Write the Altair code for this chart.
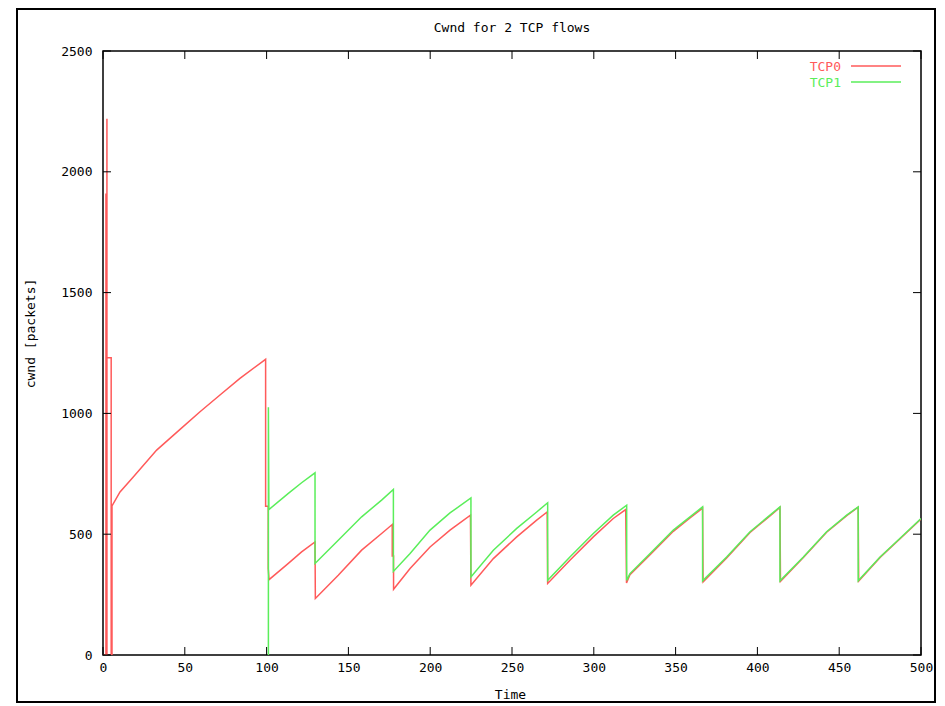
import altair as alt
import pandas as pd

# ---------------- data ----------------
series_names = ["TCP0", "TCP1"]

tcp0_time = [0, 1.8, 1.8, 1.9, 2.4, 2.4, 2.4, 5.0, 5.0, 5.5, 5.5,
             10.4, 18.5, 32.8, 47.1, 59.3, 71.5, 83.7, 99.4,
             99.4, 101.0, 101.0, 101.5, 113.3, 121.4, 129.6,
             129.8, 143.8, 158.1, 170.3, 176.8, 176.8, 177.6, 177.6,
             187.7, 199.9, 212.1, 224.6,
             224.9, 238.6, 252.9, 265.1, 271.5,
             271.8, 285.4, 299.7, 311.9, 319.5,
             320.0, 322.1, 334.4, 348.6, 358.8, 366.5,
             366.8, 381.2, 395.5, 407.7, 413.8,
             414.1, 428.1, 442.3, 454.6, 461.6,
             461.9, 475.0, 487.2, 500.0]
tcp0_cwnd = [0, 0, 1910, 0, 0, 2220, 1230, 1230, 0, 0, 617,
             675, 737, 848, 934, 1007, 1076, 1145, 1224,
             616, 616, 358, 312, 379, 427, 468,
             234, 330, 434, 503, 540, 410, 410, 272,
             358, 447, 517, 579,
             289, 399, 489, 558, 592,
             296, 392, 489, 565, 602,
             298, 332, 415, 512, 567, 608,
             302, 402, 507, 576, 611,
             305, 404, 508, 577, 612,
             306, 404, 481, 563]

tcp1_time = [101.1, 101.1, 101.4, 113.3, 121.4, 129.6,
             129.6, 143.8, 158.1, 170.3, 177.5,
             177.5, 187.7, 199.9, 212.1, 224.9,
             224.9, 238.6, 252.9, 265.1, 271.8,
             271.8, 285.4, 299.7, 311.9, 320.1,
             320.1, 322.1, 334.4, 348.6, 358.8, 366.5,
             366.5, 381.2, 395.5, 407.7, 413.8,
             413.8, 428.1, 442.3, 454.6, 461.6,
             461.6, 475.0, 487.2, 500.0]
tcp1_cwnd = [0, 1025, 602, 669, 713, 754,
             379, 475, 572, 641, 685,
             346, 420, 517, 588, 650,
             323, 434, 524, 592, 630,
             309, 406, 503, 579, 620,
             309, 337, 420, 517, 572, 613,
             307, 406, 510, 579, 613,
             307, 406, 510, 579, 613,
             307, 406, 483, 565]

x_ticks = [0, 50, 100, 150, 200, 250, 300, 350, 400, 450, 500]
y_ticks = [0, 500, 1000, 1500, 2000, 2500]

title_text = "Cwnd for 2 TCP flows"
x_title = "Time"
y_title = "cwnd [packets]"

# ---------------- styling ----------------
RED = "#ff5a5a"
GREEN = "#5aee5a"
FONT = "DejaVu Sans Mono"
FS = 13
W, H = 818, 604

df = pd.concat([
    pd.DataFrame({"t": tcp0_time, "cwnd": tcp0_cwnd, "flow": series_names[0],
                  "idx": range(len(tcp0_time))}),
    pd.DataFrame({"t": tcp1_time, "cwnd": tcp1_cwnd, "flow": series_names[1],
                  "idx": range(len(tcp1_time))}),
], ignore_index=True)

xs = alt.Scale(domain=[0, 500], nice=False, zero=False)
ys = alt.Scale(domain=[0, 2500], nice=False)

x_axis = alt.Axis(
    values=x_ticks, ticks=False, tickSize=0, domain=False, grid=False,
    labelFlush=False, labelPadding=6, labelFont=FONT, labelFontSize=FS,
    labelColor="black", format="d",
    title=x_title, titleFont=FONT, titleFontSize=FS, titleFontWeight="normal",
    titleColor="black", titleX=W / 2 - 2, titleY=39, titleBaseline="middle",
    titleAlign="center")
y_axis = alt.Axis(
    values=y_ticks, ticks=False, tickSize=0, domain=False, grid=False,
    labelFlush=False, labelPadding=11, labelFont=FONT, labelFontSize=FS,
    labelColor="black", format="d",
    title=y_title, titleFont=FONT, titleFontSize=FS, titleFontWeight="normal",
    titleColor="black", titleX=-73, titleY=282, titleBaseline="middle",
    titleAlign="center", titleAngle=270)

lines = alt.Chart(df).mark_line(strokeWidth=1.5, clip=True).encode(
    x=alt.X("t:Q", scale=xs, axis=x_axis),
    y=alt.Y("cwnd:Q", scale=ys, axis=y_axis),
    color=alt.Color("flow:N", scale=alt.Scale(domain=series_names, range=[RED, GREEN]),
                    legend=None),
    order="idx:Q",
)

xt = pd.DataFrame({"t": x_ticks})
yt = pd.DataFrame({"cwnd": y_ticks})

xtick_b = alt.Chart(xt).mark_rule(color="black", strokeWidth=1).encode(
    x=alt.X("t:Q", scale=xs, axis=x_axis), y=alt.value(H), y2=alt.value(H - 8))
xtick_t = alt.Chart(xt).mark_rule(color="black", strokeWidth=1).encode(
    x=alt.X("t:Q", scale=xs, axis=x_axis), y=alt.value(0), y2=alt.value(8))
ytick_l = alt.Chart(yt).mark_rule(color="black", strokeWidth=1).encode(
    y=alt.Y("cwnd:Q", scale=ys, axis=y_axis), x=alt.value(0), x2=alt.value(8))
ytick_r = alt.Chart(yt).mark_rule(color="black", strokeWidth=1).encode(
    y=alt.Y("cwnd:Q", scale=ys, axis=y_axis), x=alt.value(W - 8), x2=alt.value(W))

tdf = pd.DataFrame({"label": [title_text]})
title_mark = alt.Chart(tdf).mark_text(font=FONT, fontSize=FS, color="black",
                                      align="center", baseline="middle").encode(
    text="label:N", x=alt.value(W / 2), y=alt.value(-23))

frame = alt.Chart(tdf).mark_rect(fill=None, stroke="black", strokeWidth=2, filled=False).encode(
    x=alt.value(-86), x2=alt.value(832), y=alt.value(-42), y2=alt.value(651))

l0 = pd.DataFrame({"label": [series_names[0]]})
l1 = pd.DataFrame({"label": [series_names[1]]})
leg0_t = alt.Chart(l0).mark_text(font=FONT, fontSize=FS, color=RED, align="right",
                                 baseline="middle").encode(
    text="label:N", x=alt.value(738), y=alt.value(16))
leg1_t = alt.Chart(l1).mark_text(font=FONT, fontSize=FS, color=GREEN, align="right",
                                 baseline="middle").encode(
    text="label:N", x=alt.value(738), y=alt.value(32))
leg0_l = alt.Chart(l0).mark_rule(color=RED, strokeWidth=1.5).encode(
    x=alt.value(748), x2=alt.value(798), y=alt.value(15))
leg1_l = alt.Chart(l1).mark_rule(color=GREEN, strokeWidth=1.5).encode(
    x=alt.value(748), x2=alt.value(798), y=alt.value(31))

chart = alt.layer(
    lines, xtick_b, xtick_t, ytick_l, ytick_r, title_mark, frame,
    leg0_t, leg1_t, leg0_l, leg1_l,
).properties(
    width=W, height=H,
    padding={"left": 95, "top": 43, "right": 16, "bottom": 50},
    autosize=alt.AutoSizeParams(type="none"),
    background="white",
).configure_view(stroke="black", strokeWidth=1.5)

chart.save("out.html", embed_options={"renderer": "svg", "actions": False})
